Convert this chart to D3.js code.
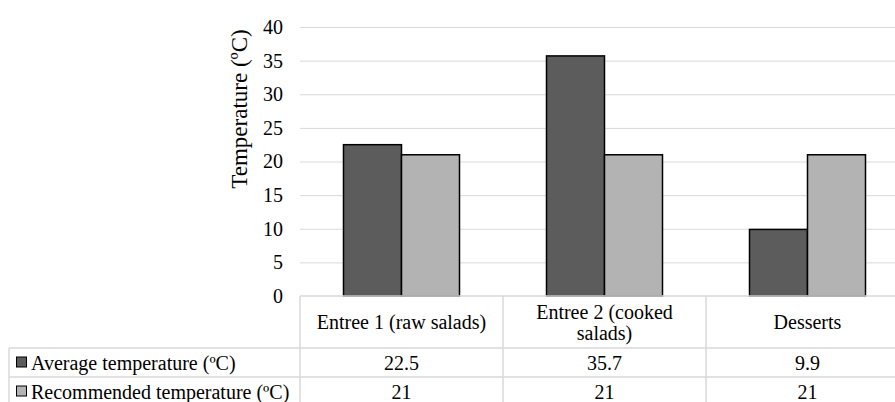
<!DOCTYPE html>
<html lang="en">
<head>
    <meta charset="UTF-8">
    <title>Temperature by dish</title>
    <script src="https://d3js.org/d3.v7.min.js"></script>
    <style>
        body {
            margin: 0;
            background: #fff;
        }
        svg text {
            font-family: 'Liberation Serif';
            fill: #000;
        }
        .tick text {
            font-size: 20px;
        }
        .grid line {
            stroke: #d9d9d9;
        }
        .cell {
            font-size: 20px;
        }
    </style>
</head>
<body>
    <svg width="895" height="402"></svg>
    <script>
        var categories = ["Entree 1 (raw salads)", "Entree 2 (cooked salads)", "Desserts"];
        var seriesNames = ["Average temperature (\u00baC)", "Recommended temperature (\u00baC)"];
        var averageTemp = [22.5, 35.7, 9.9];
        var recommendedTemp = [21, 21, 21];
        var averageLabels = ["22.5", "35.7", "9.9"];
        var recommendedLabels = ["21", "21", "21"];
        var yTicks = [0, 5, 10, 15, 20, 25, 30, 35, 40];
        var colors = ["#5c5c5c", "#b3b3b3"];

        var svg = d3.select("svg");
        var plotLeft = 300, plotRight = 909, plotTop = 27, plotBottom = 296;
        var tableLeft = 9, rowH = 29, headerBottom = 348;

        var x0 = d3.scaleBand().domain(categories).range([plotLeft, plotRight]);
        var x1 = d3.scaleBand().domain([0, 1])
            .range([43.5, x0.bandwidth() - 43.5]);
        var y = d3.scaleLinear().domain([0, 40]).range([plotBottom, plotTop]);

        // gridlines
        svg.append("g")
            .attr("class", "grid")
            .selectAll("line")
            .data(yTicks.filter(function(d) { return d > 0; }))
            .enter().append("line")
            .attr("x1", plotLeft).attr("x2", plotRight)
            .attr("y1", function(d) { return y(d) + 0.5; })
            .attr("y2", function(d) { return y(d) + 0.5; });

        // y axis, no domain line
        var yAxis = svg.append("g")
            .attr("transform", "translate(" + (plotLeft - 12) + ",0)")
            .call(d3.axisLeft(y).tickValues(yTicks).tickSize(0).tickPadding(5));
        yAxis.attr("font-family", null).attr("font-size", null);
        yAxis.select(".domain").remove();

        svg.append("text")
            .attr("transform", "rotate(-90)")
            .attr("x", -109)
            .attr("y", 239)
            .attr("dy", "0.35em")
            .attr("text-anchor", "middle")
            .style("font-size", "23px")
            .text("Temperature (\u00baC)");

        // bars
        var series = [averageTemp, recommendedTemp];
        series.forEach(function(vals, s) {
            svg.append("g").selectAll("rect")
                .data(vals)
                .enter().append("rect")
                .attr("x", function(d, i) { return x0(categories[i]) + x1(s); })
                .attr("y", function(d) { return y(d); })
                .attr("width", x1.bandwidth())
                .attr("height", function(d) { return y(0) - y(d); })
                .attr("fill", colors[s])
                .attr("stroke", "#000")
                .attr("stroke-width", 1.5);
        });

        // data table grid
        var tbl = svg.append("g").attr("stroke", "#d9d9d9").attr("stroke-width", 1.5);
        var hLines = [
            [plotLeft, plotRight, plotBottom],
            [tableLeft, plotRight, headerBottom],
            [tableLeft, plotRight, headerBottom + rowH],
            [tableLeft, plotRight, headerBottom + 2 * rowH]
        ];
        hLines.forEach(function(l) {
            tbl.append("line").attr("x1", l[0]).attr("x2", l[1]).attr("y1", l[2]).attr("y2", l[2]);
        });
        categories.forEach(function(c) {
            tbl.append("line").attr("x1", x0(c)).attr("x2", x0(c))
                .attr("y1", plotBottom).attr("y2", headerBottom + 2 * rowH);
        });
        tbl.append("line").attr("x1", tableLeft).attr("x2", tableLeft)
            .attr("y1", headerBottom).attr("y2", headerBottom + 2 * rowH);

        // header labels
        var headerLines = [["Entree 1 (raw salads)"], ["Entree 2 (cooked", "salads)"], ["Desserts"]];
        categories.forEach(function(c, i) {
            var lines = headerLines[i];
            var cx = x0(c) + x0.bandwidth() / 2;
            var top = 322 - (lines.length - 1) * 10.5;
            lines.forEach(function(t, k) {
                svg.append("text").attr("class", "cell")
                    .attr("x", cx).attr("y", top + k * 21)
                    .attr("dy", "0.35em")
                    .attr("text-anchor", "middle")
                    .text(t);
            });
        });

        // value rows with legend keys
        var rowLabels = [averageLabels, recommendedLabels];
        rowLabels.forEach(function(labels, r) {
            var cy = headerBottom + r * rowH + rowH / 2;
            svg.append("rect")
                .attr("x", 16.5).attr("y", cy - 5.5)
                .attr("width", 10).attr("height", 10)
                .attr("fill", colors[r]).attr("stroke", "#000").attr("stroke-width", 1);
            svg.append("text").attr("class", "cell")
                .attr("x", 31).attr("y", cy).attr("dy", "0.35em")
                .text(seriesNames[r]);
            labels.forEach(function(t, i) {
                svg.append("text").attr("class", "cell")
                    .attr("x", x0(categories[i]) + x0.bandwidth() / 2)
                    .attr("y", cy).attr("dy", "0.35em")
                    .attr("text-anchor", "middle")
                    .text(t);
            });
        });
    </script>
</body>
</html>
